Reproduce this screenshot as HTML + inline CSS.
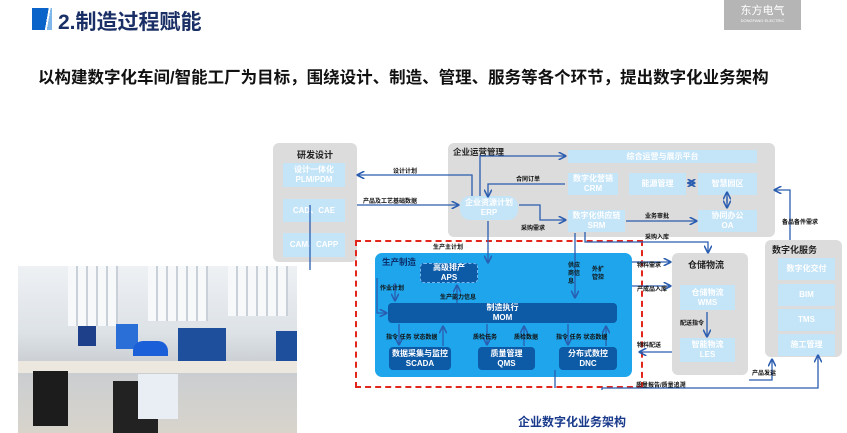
<!DOCTYPE html>
<html><head><meta charset="utf-8"><style>
*{margin:0;padding:0;box-sizing:border-box}
body{width:847px;height:433px;background:#fff;position:relative;overflow:hidden;font-family:"Liberation Sans","Noto Sans CJK SC",sans-serif}
.a{position:absolute}
.g{position:absolute;background:#dcdcdc;border-radius:6px}
.lb{position:absolute;background:#c4e4f8;color:#fff;font-size:8px;text-align:center;display:flex;flex-direction:column;justify-content:center;line-height:10px;font-weight:bold;white-space:nowrap}
.db{position:absolute;background:#0d5aa6;color:#fff;font-size:8px;text-align:center;display:flex;flex-direction:column;justify-content:center;line-height:10px;font-weight:bold;border-radius:4px;white-space:nowrap}
.t{position:absolute;font-size:8px;font-weight:bold;color:#222;white-space:nowrap}
.s{position:absolute;font-size:6px;color:#111;white-space:nowrap;font-weight:bold}
</style></head><body>
<div class="a" style="left:32px;top:8px;width:20px;height:22px;background:linear-gradient(100deg,#0a63c8 70%,#fff 70%,#fff 78%,#7fb7ea 78%)"></div>
<div class="a" style="left:58px;top:6px;font-size:21px;font-weight:bold;color:#1a2f66">2.制造过程赋能</div>
<div class="a" style="left:724px;top:0;width:77px;height:30px;background:#b5b5b5;color:#fff;text-align:center;font-size:11px;line-height:13px;padding-top:5px">东方电气<div style="font-size:4px;line-height:5px">DONGFANG ELECTRIC</div></div>
<div class="a" style="left:38px;top:64px;font-size:16.5px;font-weight:bold;color:#111">以构建数字化车间/智能工厂为目标，围绕设计、制造、管理、服务等各个环节，提出数字化业务架构</div>

<!-- photo -->
<div class="a" style="left:18px;top:266px;width:279px;height:167px;background:linear-gradient(180deg,#eef1f4 0%,#dde2e7 40%,#c9cdd1 60%,#d8d4cc 100%);overflow:hidden">
<div class="a" style="left:50px;top:0;width:50px;height:60px;background:repeating-linear-gradient(90deg,#f6f8fa 0 8px,#c9d0d8 8px 10px)"></div>
<div class="a" style="left:130px;top:0;width:60px;height:55px;background:repeating-linear-gradient(90deg,#f6f8fa 0 8px,#c9d0d8 8px 10px)"></div>
<div class="a" style="left:210px;top:0;width:60px;height:50px;background:repeating-linear-gradient(90deg,#f6f8fa 0 8px,#c9d0d8 8px 10px)"></div>
<div class="a" style="left:60px;top:60px;width:18px;height:20px;background:#1e3f8a"></div>
<div class="a" style="left:98px;top:58px;width:22px;height:25px;background:#2a6fd8"></div>
<div class="a" style="left:160px;top:62px;width:48px;height:36px;background:#1d4f9c"></div>
<div class="a" style="left:258px;top:65px;width:21px;height:40px;background:#1d4f9c"></div>
<div class="a" style="left:0;top:95px;width:279px;height:12px;background:#ece8df"></div>
<div class="a" style="left:15px;top:105px;width:35px;height:55px;background:#1c1c1c"></div>
<div class="a" style="left:95px;top:115px;width:45px;height:52px;background:#222"></div>
<div class="a" style="left:115px;top:75px;width:35px;height:15px;background:#1b5fd8;border-radius:10px 10px 0 0"></div>
<div class="a" style="left:120px;top:108px;width:40px;height:45px;background:#e9eef4"></div>
</div>

<!-- 研发设计 -->
<div class="g" style="left:273px;top:143px;width:84px;height:119px"></div>
<div class="t" style="left:297px;top:148px;font-size:9px">研发设计</div>
<div class="lb" style="left:283px;top:163px;width:62px;height:24px">设计一体化<span>PLM/PDM</span></div>
<div class="lb" style="left:283px;top:199px;width:62px;height:23px">CAD、CAE</div>
<div class="lb" style="left:283px;top:233px;width:62px;height:24px">CAM、CAPP</div>

<!-- 企业运营管理 -->
<div class="g" style="left:448px;top:143px;width:327px;height:94px"></div>
<div class="t" style="left:453px;top:146px;font-size:8.5px">企业运营管理</div>
<div class="lb" style="left:568px;top:150px;width:189px;height:13px">综合运营与展示平台</div>
<div class="lb" style="left:568px;top:173px;width:50px;height:22px">数字化营销<span>CRM</span></div>
<div class="lb" style="left:629px;top:173px;width:57px;height:22px">能源管理</div>
<div class="lb" style="left:698px;top:173px;width:59px;height:22px">智慧园区</div>
<div class="lb" style="left:568px;top:210px;width:57px;height:22px">数字化供应链<span>SRM</span></div>
<div class="lb" style="left:698px;top:210px;width:59px;height:22px">协同办公<span>OA</span></div>
<div class="lb" style="left:460px;top:196px;width:58px;height:24px;border-radius:10px">企业资源计划<span>ERP</span></div>

<!-- 生产制造 -->
<div class="a" style="left:375px;top:253px;width:257px;height:124px;background:#1ea5ec;border-radius:7px"></div>
<div class="t" style="left:382px;top:256px;color:#0c2f6b;font-size:8.5px">生产制造</div>
<div class="db" style="left:420px;top:263px;width:58px;height:20px;border:1px dashed #7ab8ee">高级排产<span>APS</span></div>
<div class="db" style="left:388px;top:303px;width:229px;height:20px">制造执行<span>MOM</span></div>
<div class="db" style="left:389px;top:347px;width:62px;height:23px">数据采集与监控<span>SCADA</span></div>
<div class="db" style="left:478px;top:347px;width:57px;height:23px">质量管理<span>QMS</span></div>
<div class="db" style="left:559px;top:347px;width:58px;height:23px">分布式数控<span>DNC</span></div>
<div class="a" style="left:355px;top:240px;width:288px;height:148px;border:2px dashed #e3261c"></div>

<!-- 仓储物流 -->
<div class="g" style="left:672px;top:253px;width:76px;height:122px"></div>
<div class="t" style="left:688px;top:258px;font-size:9px">仓储物流</div>
<div class="lb" style="left:680px;top:285px;width:55px;height:25px">仓储物流<span>WMS</span></div>
<div class="lb" style="left:680px;top:338px;width:55px;height:24px">智能物流<span>LES</span></div>

<!-- 数字化服务 -->
<div class="g" style="left:765px;top:240px;width:77px;height:117px"></div>
<div class="t" style="left:772px;top:243px;font-size:9px">数字化服务</div>
<div class="lb" style="left:778px;top:258px;width:57px;height:22px">数字化交付</div>
<div class="lb" style="left:778px;top:284px;width:57px;height:22px">BIM</div>
<div class="lb" style="left:778px;top:309px;width:57px;height:22px">TMS</div>
<div class="lb" style="left:778px;top:334px;width:57px;height:22px">施工管理</div>

<svg class="a" style="left:0;top:0" width="847" height="433">
<defs><marker id="m" markerWidth="6" markerHeight="6" refX="5" refY="3" orient="auto"><path d="M0,0 L6,3 L0,6" fill="none" stroke="#2a5db0" stroke-width="1.2"/></marker></defs>
<g stroke="#2a5db0" stroke-width="1.3" fill="none" marker-end="url(#m)">
<path d="M472,196 V175 H358"/>
<path d="M357,205 H458"/>
<path d="M480,196 V156 H565"/>
<path d="M565,184 H488 V196"/>
<path d="M519,205 H540 V220 H565"/>
<path d="M488,221 V262"/>
<path d="M575,233 V297"/>
<path d="M585,232 V242 H708 V252"/>
<path d="M626,221 H696"/>
<path d="M727,197 V207"/>
<path d="M727,203 V193"/>
<path d="M687,183 H694"/>
<path d="M693,183 H689"/>
<path d="M602,390 V388 H818 V356"/>
<path d="M749,380 H772 V360"/>
<path d="M790,240 V190 H775"/>
<path d="M632,262 H670"/>
<path d="M632,286 H670"/>
<path d="M672,352 H640"/>
<path d="M707,312 V336"/>
<path d="M377,278 V313 H386"/>
<path d="M395,283 V300"/>
<path d="M457,303 V286"/>
<path d="M399,324 V344"/>
<path d="M443,346 V327"/>
<path d="M487,324 V344"/>
<path d="M524,346 V327"/>
<path d="M568,324 V344"/>
<path d="M606,346 V327"/>
<path d="M555,370 V388" marker-end="none"/>
<path d="M310,205 V270" marker-end="none"/>
</g>
</svg>
<div class="s" style="left:393px;top:166px">设计计划</div>
<div class="s" style="left:363px;top:196px">产品及工艺基础数据</div>
<div class="s" style="left:516px;top:174px">合同订单</div>
<div class="s" style="left:521px;top:223px">采购需求</div>
<div class="s" style="left:645px;top:211px">业务审批</div>
<div class="s" style="left:645px;top:232px">采购入库</div>
<div class="s" style="left:433px;top:242px">生产主计划</div>
<div class="s" style="left:380px;top:283px">作业计划</div>
<div class="s" style="left:440px;top:292px">生产能力信息</div>
<div class="s" style="left:568px;top:262px;line-height:8px">供应<br>商信<br>息</div>
<div class="s" style="left:592px;top:266px;line-height:8px">外扩<br>管控</div>
<div class="s" style="left:386px;top:332px">指令 任务 状态数据</div>
<div class="s" style="left:473px;top:332px">质检任务</div>
<div class="s" style="left:514px;top:332px">质检数据</div>
<div class="s" style="left:556px;top:332px">指令 任务 状态数据</div>
<div class="s" style="left:637px;top:260px">物料需求</div>
<div class="s" style="left:637px;top:284px">产成品入库</div>
<div class="s" style="left:680px;top:318px">配送指令</div>
<div class="s" style="left:637px;top:340px">物料配送</div>
<div class="s" style="left:636px;top:380px">质量报告/质量追溯</div>
<div class="s" style="left:752px;top:368px">产品发运</div>
<div class="s" style="left:782px;top:217px">备品备件需求</div>
<div class="a" style="left:518px;top:413px;font-size:12px;font-weight:bold;color:#1a3b8c">企业数字化业务架构</div>
</body></html>
